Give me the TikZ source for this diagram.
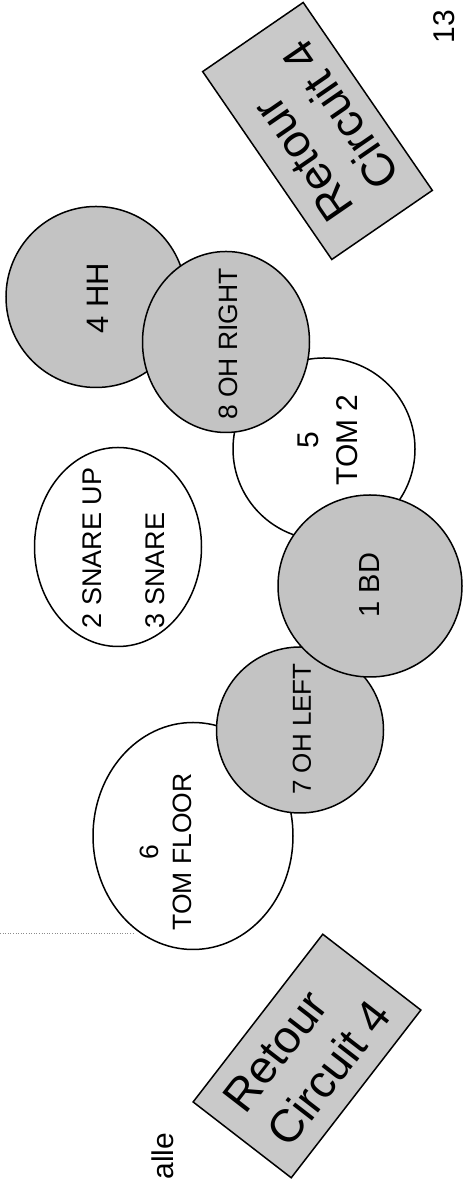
\documentclass[tikz,border=0pt]{standalone}
\usepackage{fontspec}
\setmainfont{Liberation Sans}
\usepackage{xcolor}
\usetikzlibrary{shapes.geometric}
\definecolor{padgray}{HTML}{C3C3C3}
\definecolor{retourgray}{HTML}{C9C9C9}
\tikzset{
  pad/.style={ellipse, draw=black, line width=1.5pt, inner sep=0pt},
  padlbl/.style={rotate=90, inner sep=0pt, align=center},
  retourbox/.style={draw=black, line width=1.5pt, fill=retourgray, inner sep=0pt, align=left,
                    font=\fontsize{46}{56}\selectfont},
  edgetext/.style={rotate=90, inner sep=0pt, font=\fontsize{30}{36}\selectfont}
}
\newcommand{\drumpad}[5]{
  \node[pad, fill=#2, minimum width=#4, minimum height=#5] (#1) at #3 {};
}

\begin{document}
\begin{tikzpicture}[x=1pt,y=1pt]
\useasboundingbox (0,0) rectangle (463,1182);

\draw[black!45, dotted, line width=0.6pt] (0,249) -- (135,249);

\node[retourbox, rotate=124.5, minimum width=228pt, minimum height=122pt] (retourtop) at (317.5,1051) {Retour\\Circuit 4};
\node[retourbox, rotate=52.3, minimum width=212pt, minimum height=124pt] (retourbottom) at (307,126) {Retour\\Circuit 4};

\drumpad{hh}{padgray}{(96,885)}{180pt}{181pt}
\node[padlbl, font=\fontsize{31}{36}\selectfont] (hhlbl) at (98,884) {4 HH};
\drumpad{tomtwo}{white}{(324,733)}{182pt}{182pt}
\node[padlbl, font=\fontsize{30}{39}\selectfont] (tomtwolbl) at (328,742) {5\\TOM 2};
\drumpad{tomfloor}{white}{(193,346)}{200pt}{227pt}
\node[padlbl, font=\fontsize{26.5}{33}\selectfont] (tomfloorlbl) at (166,330) {6\\TOM FLOOR};
\drumpad{snare}{white}{(118,635)}{167pt}{199pt}
\node[padlbl, align=left, font=\fontsize{27}{31}\selectfont] (snarelbl) at (123.5,634) {2 SNARE UP\\[32pt]3 SNARE};
\drumpad{ohright}{padgray}{(226,840)}{167pt}{181pt}
\node[padlbl, font=\fontsize{26.5}{30}\selectfont] (ohrightlbl) at (228,838) {8 OH RIGHT};
\drumpad{ohleft}{padgray}{(300,452)}{167pt}{166pt}
\node[padlbl, font=\fontsize{26}{30}\selectfont] (ohleftlbl) at (302,453) {7 OH LEFT};
\drumpad{bd}{padgray}{(370,596)}{184pt}{182pt}
\node[padlbl, font=\fontsize{29}{34}\selectfont] (bdlbl) at (370,597) {1 BD};

\node[edgetext] (pagenum) at (444,1155) {13};
\node[edgetext] (sallefrag) at (162.5,26) {alle};
\end{tikzpicture}
\end{document}
